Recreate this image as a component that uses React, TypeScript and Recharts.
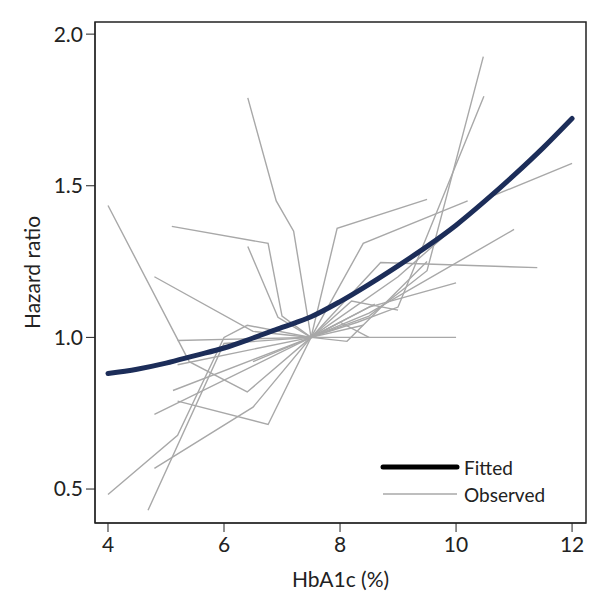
import React from "react";
import {
  LineChart,
  Line,
  XAxis,
  YAxis,
  ReferenceArea,
} from "recharts";

// fitted curve
const fittedX = [4, 4.5, 5, 5.5, 6, 6.5, 7, 7.5, 8, 8.5, 9, 9.5, 10, 10.5, 11, 11.5, 12];
const fittedHR = [0.881, 0.895, 0.915, 0.94, 0.965, 0.998, 1.033, 1.068, 1.118, 1.175, 1.236, 1.3, 1.37, 1.45, 1.535, 1.625, 1.722];

// observed studies, [HbA1c, hazard ratio]
const study01 = [[4, 1.435], [5.4, 0.92], [6.4, 0.82], [7.5, 1], [9, 1.2], [10.55, 1.46], [12, 1.574]];
const study02 = [[4.8, 1.2], [6.5, 1.02], [7.5, 1], [8.7, 1.247], [11.4, 1.23]];
const study03 = [[5.1, 1.366], [6.76, 1.31], [7.0, 1.07], [7.5, 1], [8.5, 1.1], [10, 1.18]];
const study04 = [[6.41, 1.79], [6.9, 1.45], [7.2, 1.35], [7.5, 1], [8.5, 1.07], [9.5, 1.22], [10.47, 1.926]];
const study05 = [[6.41, 1.3], [6.93, 1.066], [7.5, 1], [7.95, 1.36], [9.5, 1.455]];
const study06 = [[5.2, 0.99], [7.5, 1], [10, 1.0]];
const study07 = [[4, 0.482], [5.2, 0.677], [6.0, 1.0], [6.4, 1.04], [7.5, 1], [8.4, 1.31], [10.2, 1.45]];
const study08 = [[4.69, 0.43], [6.0, 0.98], [7.5, 1], [8.3, 1.05], [9.0, 1.1], [10.48, 1.795]];
const study09 = [[4.8, 0.568], [6.5, 0.77], [7.5, 1], [8.5, 1.08], [11, 1.356]];
const study10 = [[5.2, 0.79], [6.76, 0.713], [7.5, 1], [8.2, 1.12], [9.0, 1.09]];
const study11 = [[4.8, 0.746], [7.5, 1], [8.12, 0.987], [9.5, 1.25]];
const study12 = [[5.12, 0.825], [7.5, 1], [8.0, 1.05], [8.5, 1.0]];
const study13 = [[5.2, 0.91], [7.5, 1], [8.6, 1.11]];
const study14 = [[6.5, 0.92], [7.5, 1], [8.4, 1.04]];

const studies = [
  study01, study02, study03, study04, study05, study06, study07,
  study08, study09, study10, study11, study12, study13, study14,
];

const xTicks = [4, 6, 8, 10, 12];
const yTicks = [0.5, 1.0, 1.5, 2.0];

const xMin = 3.776;
const xMax = 12.24;
const yMin = 0.388;
const yMax = 2.04;

const fittedData = fittedX.map((x, i) => ({ x, y: fittedHR[i] }));
const toPoints = (s: number[][]) => s.map(([x, y]) => ({ x, y }));

const FONT = "Lato, 'Open Sans', sans-serif";
const tickStyle = { fontSize: 21, fill: "#222", fontFamily: FONT };

export default function App() {
  return (
    <div style={{ position: "relative", width: 592, height: 590, fontFamily: FONT }}>
      <LineChart
        width={592}
        height={590}
        margin={{ top: 14, right: 14, bottom: 5, left: 0 }}
      >
        <XAxis
          dataKey="x"
          type="number"
          domain={[xMin, xMax]}
          ticks={xTicks}
          allowDataOverflow
          height={70}
          tickSize={9}
          tickMargin={5}
          stroke="#222"
          tick={tickStyle}
          label={{
            value: "HbA1c (%)",
            position: "insideBottom",
            offset: 6,
            style: { fontSize: 21, fill: "#222", fontFamily: FONT },
          }}
        />
        <YAxis
          dataKey="y"
          type="number"
          domain={[yMin, yMax]}
          ticks={yTicks}
          allowDataOverflow
          width={87}
          tickSize={9}
          tickMargin={3}
          stroke="#222"
          tick={tickStyle}
          tickFormatter={(v: number) => v.toFixed(1)}
          label={{
            value: "Hazard ratio",
            angle: -90,
            position: "insideLeft",
            offset: 25,
            style: { fontSize: 21, fill: "#222", fontFamily: FONT, textAnchor: "middle" },
          }}
        />
        <ReferenceArea
          x1={xMin}
          x2={xMax}
          y1={yMin}
          y2={yMax}
          fill="none"
          stroke="#222"
          strokeWidth={1.5}
        />
        {studies.map((s, i) => (
          <Line
            key={i}
            data={toPoints(s)}
            dataKey="y"
            type="linear"
            stroke="#a8a8a8"
            strokeWidth={1.4}
            dot={false}
            activeDot={false}
            isAnimationActive={false}
          />
        ))}
        <Line
          data={fittedData}
          dataKey="y"
          type="monotone"
          stroke="#1c2d59"
          strokeWidth={5}
          strokeLinecap="round"
          dot={false}
          activeDot={false}
          isAnimationActive={false}
        />
      </LineChart>
      <svg
        width={200}
        height={60}
        style={{ position: "absolute", left: 370, top: 444 }}
      >
        <line x1={5} x2={79} y1={15} y2={15} stroke="#000" strokeWidth={5} strokeLinecap="round" />
        <text x={86} y={15} dominantBaseline="central" fontSize={19} fill="#222" fontFamily={FONT}>
          Fitted
        </text>
        <line x1={5} x2={79} y1={42} y2={42} stroke="#a8a8a8" strokeWidth={1.5} />
        <text x={86} y={42} dominantBaseline="central" fontSize={19} fill="#222" fontFamily={FONT}>
          Observed
        </text>
      </svg>
    </div>
  );
}
